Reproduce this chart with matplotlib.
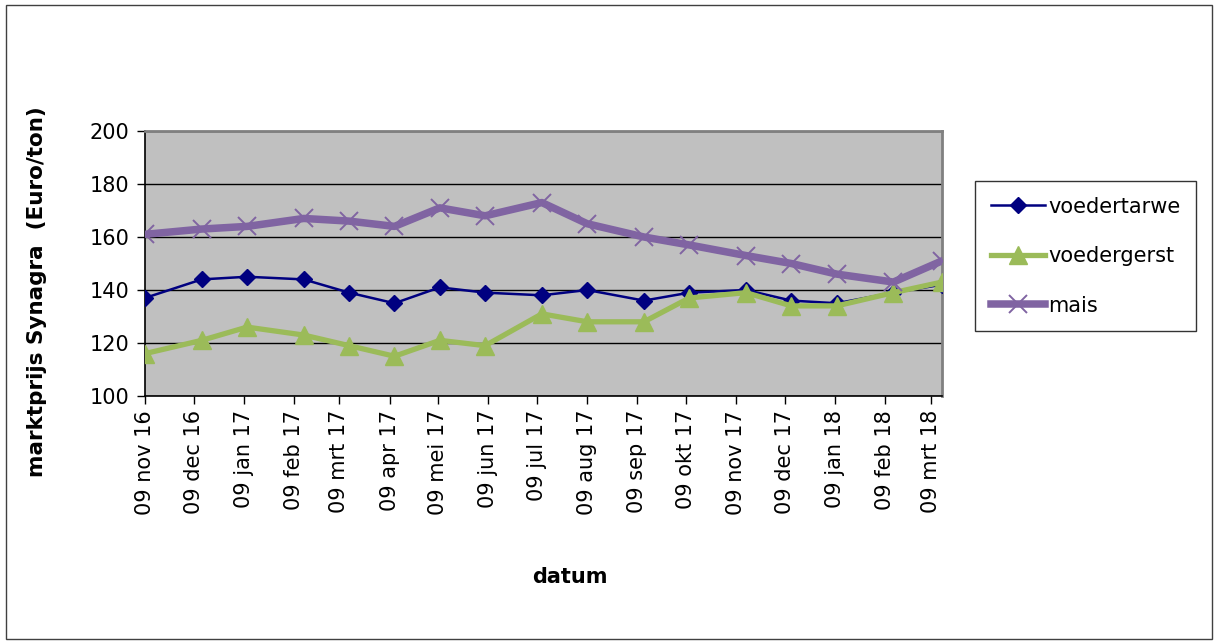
import datetime as dt

import matplotlib

matplotlib.use("Agg")
import matplotlib.pyplot as plt
from matplotlib.patches import Rectangle

plt.rcParams["font.family"] = ["DejaVu Sans"]

# report dates and market prices (Euro/ton)
dates = [
    "2016-11-09", "2016-12-14", "2017-01-11", "2017-02-15", "2017-03-15",
    "2017-04-12", "2017-05-10", "2017-06-07", "2017-07-12", "2017-08-09",
    "2017-09-13", "2017-10-11", "2017-11-15", "2017-12-13", "2018-01-10",
    "2018-02-14", "2018-03-16",
]
voedertarwe = [137, 144, 145, 144, 139, 135, 141, 139, 138, 140, 136, 139, 140, 136, 135, 139, 142]
voedergerst = [116, 121, 126, 123, 119, 115, 121, 119, 131, 128, 128, 137, 139, 134, 134, 139, 143]
mais = [161, 163, 164, 167, 166, 164, 171, 168, 173, 165, 160, 157, 153, 150, 146, 143, 151]

maanden = ["jan", "feb", "mrt", "apr", "mei", "jun", "jul", "aug", "sep", "okt", "nov", "dec"]
tick_months = [(2016, 11), (2016, 12)] + [(2017, m) for m in range(1, 13)] + [(2018, 1), (2018, 2), (2018, 3)]

x = [dt.datetime.strptime(d, "%Y-%m-%d") for d in dates]
ticks = [dt.datetime(y, m, 9) for y, m in tick_months]
tick_labels = [f"09 {maanden[m - 1]} {y % 100:02d}" for y, m in tick_months]

W, H = 1216, 643
fig = plt.figure(figsize=(W / 100, H / 100), dpi=100)
fig.patches.append(Rectangle((6 / W, 4 / H), 1 - 10 / W, 1 - 9 / H, transform=fig.transFigure,
                             fill=False, edgecolor="#404040", linewidth=1.0))

ax = fig.add_axes([145 / W, 1 - 396 / H, (942 - 145) / W, (396 - 131) / H])
ax.set_facecolor("#C0C0C0")

ax.plot(x, voedertarwe, color="#000080", lw=1.8, marker="D", markersize=8.5, label="voedertarwe", zorder=3)
ax.plot(x, voedergerst, color="#9BBB59", lw=3.8, marker="^", markersize=13, label="voedergerst", zorder=4)
ax.plot(x, mais, color="#8064A2", lw=5.4, marker="x", markersize=13, markeredgewidth=1.4, label="mais", zorder=5)

ax.set_xlim(x[0], x[-1])
ax.set_ylim(100, 200)
ax.set_yticks(range(100, 201, 20))
ax.set_xticks(ticks)
ax.set_xticklabels(tick_labels, rotation=90, fontsize=15)
ax.tick_params(axis="y", labelsize=15, direction="out", length=6, width=1, pad=5)
ax.tick_params(axis="x", direction="out", length=6, width=1, pad=4)
ax.grid(axis="y", color="black", linewidth=1)
ax.set_axisbelow(True)

for side in ("top", "right"):
    ax.spines[side].set_color("#808080")
    ax.spines[side].set_linewidth(2)
for side in ("left", "bottom"):
    ax.spines[side].set_color("black")
    ax.spines[side].set_linewidth(1.2)

fig.text(37 / W, 1 - 292 / H, "marktprijs Synagra  (Euro/ton)", rotation=90, ha="center", va="center",
         fontsize=15.5, fontweight="bold")
fig.text(570 / W, 1 - 577 / H, "datum", ha="center", va="center", fontsize=15, fontweight="bold")

leg = fig.legend(loc="upper left", bbox_to_anchor=(975 / W, 1 - 181 / H), fontsize=15, frameon=True,
                 fancybox=False, edgecolor="black", handlelength=2.6, labelspacing=1.42,
                 borderpad=0.75, handletextpad=0.15, borderaxespad=0)
leg.get_frame().set_linewidth(1.0)

fig.savefig("out.png", dpi=100)
